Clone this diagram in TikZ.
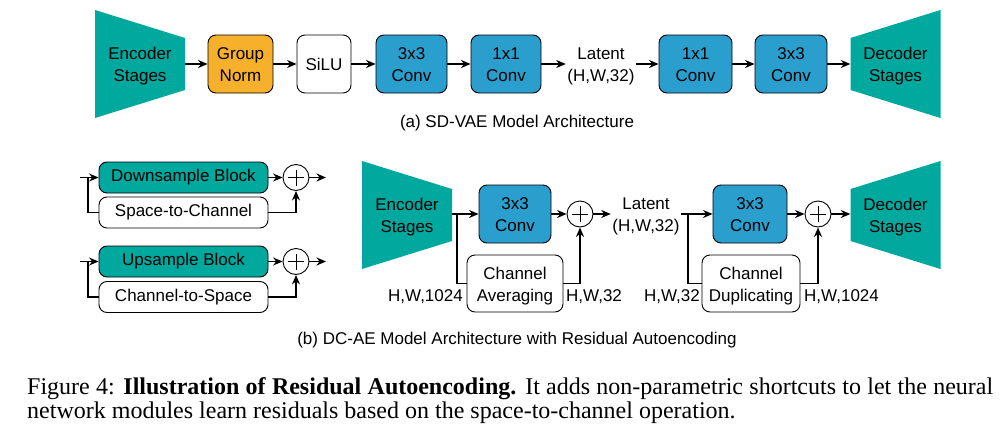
\documentclass[tikz,border=0pt]{standalone}
\usepackage{fontspec}
\setmainfont{Liberation Sans}
\newfontfamily\capfont{Liberation Serif}
\usetikzlibrary{arrows.meta}
\definecolor{stageteal}{RGB}{0,168,158}
\definecolor{normorange}{RGB}{246,176,44}
\definecolor{convblue}{RGB}{42,158,204}
\newcommand{\twolines}[2]{\raisebox{-2.5pt}[\height][\depth]{\begin{tabular}{@{}c@{}}#1\\#2\end{tabular}}}
\tikzset{
  block/.style = {draw, line width = 0.9pt, rounded corners = 8pt,
    inner sep = 0pt, minimum height = 58pt},
  convblock/.style = {block, fill = convblue},
  shortblock/.style = {draw, line width = 0.9pt, rounded corners = 8pt,
    inner sep = 0pt, minimum width = 169pt, minimum height = 31pt},
  encstage/.style = {inner sep = 0pt, minimum width = 90pt, minimum height = 108pt,
    path picture = {\fill [stageteal]
      (path picture bounding box.north west) --
      ([yshift=-28pt]path picture bounding box.north east) --
      ([yshift=28pt]path picture bounding box.south east) --
      (path picture bounding box.south west) -- cycle;}},
  decstage/.style = {inner sep = 0pt, minimum width = 90pt, minimum height = 108pt,
    path picture = {\fill [stageteal]
      ([yshift=-28pt]path picture bounding box.north west) --
      (path picture bounding box.north east) --
      (path picture bounding box.south east) --
      ([yshift=28pt]path picture bounding box.south west) -- cycle;}},
  addnode/.style = {circle, draw, line width = 0.9pt, fill = white, minimum size = 26pt, inner sep = 0pt,
    path picture = {\draw [line width = 0.7pt]
      ([xshift=-8pt]path picture bounding box.center) -- ([xshift=8pt]path picture bounding box.center)
      ([yshift=-8pt]path picture bounding box.center) -- ([yshift=8pt]path picture bounding box.center);}},
  flow/.style = {line width = 1.6pt, -{Stealth[length = 9.5pt, width = 8pt]}},
  link/.style = {line width = 1.6pt},
}
\begin{document}
\begin{tikzpicture}[x = 1pt, y = -1pt, font = \fontsize{17}{22}\selectfont]
  \useasboundingbox (0, 0) rectangle (1006, 423);

  % (a) sd-vae
  % ----------
  \node [encstage] (encA) at (140, 64) {\twolines{Encoder}{Stages}};
  \node [block, fill = normorange, minimum width = 65pt] (gnA) at (240.5, 64) {\twolines{Group}{Norm}};
  \node [block, fill = white, minimum width = 54pt] (siluA) at (324, 64) {SiLU};
  \node [convblock, minimum width = 71pt] (convA1) at (411.5, 64) {\twolines{3x3}{Conv}};
  \node [convblock, minimum width = 70pt] (convA2) at (506, 64) {\twolines{1x1}{Conv}};
  \node [inner sep = 1.5pt] (latA) at (601, 64) {\twolines{Latent}{(H,W,32)}};
  \node [convblock, minimum width = 73pt] (convA3) at (695.5, 64) {\twolines{1x1}{Conv}};
  \node [convblock, minimum width = 72pt] (convA4) at (791, 64) {\twolines{3x3}{Conv}};
  \node [decstage] (decA) at (895.5, 64) {\twolines{Decoder}{Stages}};

  \draw [flow] (encA) -- (gnA);
  \draw [flow] (gnA) -- (siluA);
  \draw [flow] (siluA) -- (convA1);
  \draw [flow] (convA1) -- (convA2);
  \draw [flow] (convA2) -- (latA);
  \draw [flow] (latA) -- (convA3);
  \draw [flow] (convA3) -- (convA4);
  \draw [flow] (convA4) -- (decA);

  \node (capA) at (517, 123) {(a) SD-VAE Model Architecture};

  % shortcut blocks
  % ---------------
  \node [shortblock, fill = stageteal] (down) at (183.5, 177.5) {Downsample Block};
  \node [shortblock, fill = white] (s2c) at (183.5, 212.5) {Space-to-Channel};
  \node [addnode] (addD) at (296, 177.5) {};
  \coordinate (inD) at (80, 177.5);
  \coordinate (forkD) at (88, 177.5);
  \coordinate (outD) at (326, 177.5);
  \draw [flow] (inD) -- (down);
  \draw [link] (forkD) |- (s2c);
  \draw [flow] (down) -- (addD);
  \draw [flow] (s2c) -| (addD);
  \draw [flow] (addD) -- (outD);

  \node [shortblock, fill = stageteal] (up) at (183.5, 261.5) {Upsample Block};
  \node [shortblock, fill = white] (c2s) at (183.5, 297) {Channel-to-Space};
  \node [addnode] (addU) at (296, 261.5) {};
  \coordinate (inU) at (80, 261.5);
  \coordinate (forkU) at (88, 261.5);
  \coordinate (outU) at (326, 261.5);
  \draw [flow] (inU) -- (up);
  \draw [link] (forkU) |- (c2s);
  \draw [flow] (up) -- (addU);
  \draw [flow] (c2s) -| (addU);
  \draw [flow] (addU) -- (outU);

  % (b) dc-ae
  % ---------
  \node [encstage] (encB) at (407, 215) {\twolines{Encoder}{Stages}};
  \node [convblock, minimum width = 72pt] (convB1) at (515, 214) {\twolines{3x3}{Conv}};
  \node [addnode] (addB1) at (580, 214) {};
  \node [inner sep = 1.5pt] (latB) at (646, 214) {\twolines{Latent}{(H,W,32)}};
  \node [block, fill = white, minimum width = 96pt, minimum height = 57pt] (avg) at (515, 283.5) {\twolines{Channel}{Averaging}};
  \node [convblock, minimum width = 74pt] (convB2) at (750, 214) {\twolines{3x3}{Conv}};
  \node [addnode] (addB2) at (818, 214) {};
  \node [block, fill = white, minimum width = 98pt, minimum height = 57pt] (dup) at (751, 283.5) {\twolines{Channel}{Duplicating}};
  \node [decstage] (decB) at (895.5, 215) {\twolines{Decoder}{Stages}};

  \node [anchor = east, inner sep = 0pt] (dimB1) at (463, 297) {H,W,1024};
  \node [anchor = west, inner sep = 0pt] (dimB2) at (566, 297) {H,W,32};
  \node [anchor = east, inner sep = 0pt] (dimB3) at (700, 297) {H,W,32};
  \node [anchor = west, inner sep = 0pt] (dimB4) at (804, 297) {H,W,1024};

  \coordinate (forkB1) at (457, 214);
  \coordinate (forkB2) at (688, 214);
  \draw [flow] (encB.east |- forkB1) -- (convB1);
  \draw [link] (forkB1) |- (avg);
  \draw [flow] (convB1) -- (addB1);
  \draw [flow] (avg) -| (addB1);
  \draw [flow] (addB1) -- (latB);
  \draw [flow] (latB) -- (convB2);
  \draw [link] (forkB2) |- (dup);
  \draw [flow] (convB2) -- (addB2);
  \draw [flow] (dup) -| (addB2);
  \draw [flow] (addB2) -- (decB.west |- addB2);

  \node (capB) at (517, 340) {(b) DC-AE Model Architecture with Residual Autoencoding};

  % figure caption
  % --------------
  \node [anchor = base west, inner sep = 0pt, font = \capfont\fontsize{24}{24}\selectfont] (capL1) at (27, 394)
    {\makebox[966pt][s]{Figure 4: \textbf{Illustration of Residual Autoencoding.} It adds non-parametric shortcuts to let the neural}};
  \node [anchor = base west, inner sep = 0pt, font = \capfont\fontsize{24}{24}\selectfont] (capL2) at (27, 418)
    {network modules learn residuals based on the space-to-channel operation.};
\end{tikzpicture}
\end{document}
